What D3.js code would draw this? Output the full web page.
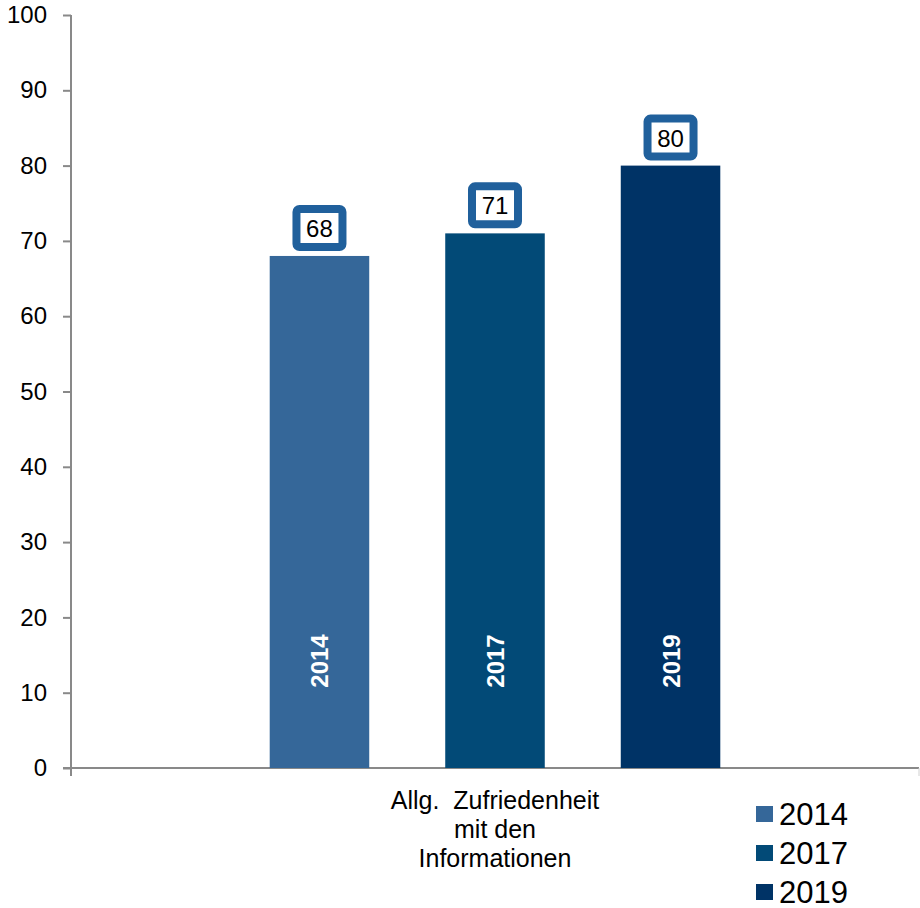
<!DOCTYPE html>
<html>
<head>
<meta charset="utf-8">
<script src="https://cdn.jsdelivr.net/npm/d3@7"></script>
<style>
  body { margin: 0; background: #fff; }
  text { font-family: "Liberation Sans", Arial, sans-serif; }
</style>
</head>
<body>
<svg id="chart" width="920" height="908"></svg>
<script>
// data
var categories = ["Allg.  Zufriedenheit mit den Informationen"];
var categoryLines = [["Allg.  Zufriedenheit", "mit den", "Informationen"]];
var years = ["2014", "2017", "2019"];
var values = [68, 71, 80];
var yTicks = [0, 10, 20, 30, 40, 50, 60, 70, 80, 90, 100];
var colors = ["#356799", "#024A77", "#003366"];

var svg = d3.select("#chart");
var plotLeft = 71, plotRight = 919, plotTop = 15, plotBottom = 768;

var y = d3.scaleLinear().domain([0, 100]).range([plotBottom, plotTop]);
var x0 = d3.scaleBand().domain(categories).range([plotLeft, plotRight]).paddingInner(0).paddingOuter(0.441);
var x1 = d3.scaleBand().domain(years).range([0, x0.bandwidth()]).paddingInner(0.433).paddingOuter(0);
var color = d3.scaleOrdinal().domain(years).range(colors);

// y axis
var yAxis = svg.append("g")
  .attr("transform", "translate(" + plotLeft + ",0)")
  .call(d3.axisLeft(y).tickValues(yTicks).tickSize(8).tickPadding(16));
yAxis.select(".domain").attr("stroke", "#898989").attr("stroke-width", 2).attr("d", "M0," + plotTop + "V" + plotBottom);
yAxis.selectAll(".tick line").attr("stroke", "#898989").attr("stroke-width", 2);
yAxis.selectAll(".tick text").attr("font-size", 24).attr("fill", "#000")
  .attr("font-family", "Liberation Sans, Arial, sans-serif");

// x axis line with end ticks
svg.append("line").attr("x1", plotLeft - 8).attr("x2", plotRight).attr("y1", plotBottom).attr("y2", plotBottom)
  .attr("stroke", "#898989").attr("stroke-width", 2);
svg.append("line").attr("x1", plotLeft).attr("x2", plotLeft).attr("y1", plotBottom).attr("y2", plotBottom + 8)
  .attr("stroke", "#898989").attr("stroke-width", 2);
svg.append("line").attr("x1", plotRight).attr("x2", plotRight).attr("y1", plotBottom).attr("y2", plotBottom + 8)
  .attr("stroke", "#d0d0d0").attr("stroke-width", 1);

var data = years.map(function(yr, i) { return { year: yr, value: values[i] }; });

var group = svg.selectAll("g.cat")
  .data(categories)
  .enter().append("g")
  .attr("class", "cat")
  .attr("transform", function(d) { return "translate(" + x0(d) + ",0)"; });

var bar = group.selectAll("g.bar")
  .data(data)
  .enter().append("g")
  .attr("class", "bar");

bar.append("rect")
  .attr("x", function(d) { return x1(d.year); })
  .attr("y", function(d) { return y(d.value); })
  .attr("width", x1.bandwidth())
  .attr("height", function(d) { return plotBottom - y(d.value); })
  .attr("fill", function(d) { return color(d.year); });

// year inside the bar, rotated
bar.append("text")
  .attr("transform", function(d) {
    return "translate(" + (x1(d.year) + x1.bandwidth() / 2 + 9) + "," + 661 + ") rotate(-90)";
  })
  .attr("text-anchor", "middle")
  .attr("font-size", 24)
  .attr("font-weight", "bold")
  .attr("fill", "#fff")
  .text(function(d) { return d.year; });

// value label boxes
bar.append("rect")
  .attr("x", function(d) { return x1(d.year) + x1.bandwidth() / 2 - 23; })
  .attr("y", function(d) { return y(d.value) - 9 - 38; })
  .attr("width", 46)
  .attr("height", 38)
  .attr("rx", 3)
  .attr("fill", "#fff")
  .attr("stroke", "#20609C")
  .attr("stroke-width", 8);

bar.append("text")
  .attr("x", function(d) { return x1(d.year) + x1.bandwidth() / 2; })
  .attr("y", function(d) { return y(d.value) - 19; })
  .attr("text-anchor", "middle")
  .attr("font-size", 24)
  .attr("fill", "#000")
  .text(function(d) { return d.value; });

// category label
var catLabel = svg.append("text")
  .attr("text-anchor", "middle")
  .attr("font-size", 25)
  .attr("fill", "#000")
  .style("white-space", "pre");
categoryLines[0].forEach(function(line, i) {
  catLabel.append("tspan")
    .attr("x", x0(categories[0]) + x0.bandwidth() / 2)
    .attr("y", 809 + i * 29)
    .text(line);
});

// legend
var legend = svg.selectAll("g.legend")
  .data(years)
  .enter().append("g")
  .attr("class", "legend")
  .attr("transform", function(d, i) { return "translate(756," + (806 + i * 39) + ")"; });
legend.append("rect").attr("width", 17).attr("height", 16).attr("fill", function(d) { return color(d); });
legend.append("text").attr("x", 23).attr("y", 19).attr("font-size", 31).attr("fill", "#000")
  .text(function(d) { return d; });
</script>
</body>
</html>
